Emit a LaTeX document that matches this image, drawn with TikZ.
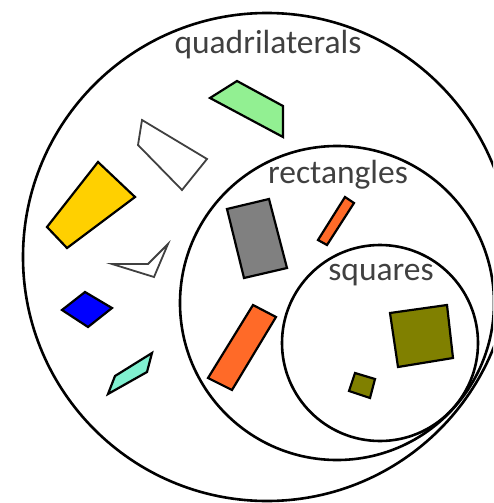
\documentclass[tikz,border=0pt]{standalone}
\usepackage{fontspec}
\setmainfont{Carlito}
\definecolor{lblgray}{RGB}{64,64,64}
\definecolor{kitegreen}{RGB}{146,240,146}
\definecolor{trapyellow}{RGB}{255,208,0}
\definecolor{rhomblue}{RGB}{0,0,255}
\definecolor{paraaqua}{RGB}{128,240,208}
\definecolor{rectgray}{RGB}{128,128,128}
\definecolor{rectorange}{RGB}{255,106,40}
\definecolor{sqolive}{RGB}{128,128,0}

\begin{document}
\begin{tikzpicture}[x=1pt,y=-1pt,
set/.style={draw=black,line width=2.6pt},
poly/.style={draw=black,line width=2.2pt},
hollow/.style={draw=black!75,line width=1.8pt,fill=white},
lbl/.style={text=lblgray,anchor=base,inner sep=0pt,font=\fontsize{33.5}{40}\selectfont}]

\useasboundingbox (0,0) rectangle (493,503);
\clip (0,0) rectangle (493,503);

% the three sets
\draw[set] (267,257) circle[radius=244pt];
\draw[set] (337,303) circle[radius=157pt];
\draw[set] (380,343) circle[radius=98pt];

\node[lbl](quad)at(268,54){quadrilaterals};
\node[lbl](rect)at(338,183){rectangles};
\node[lbl](sq)at(381,280){squares};

% general quadrilaterals
\draw[poly,fill=kitegreen] (210,98)--(237,81)--(283,106)--(283,137)--cycle;
\draw[hollow] (142,120)--(207,159)--(182,190)--(138,145)--cycle;
\draw[poly,fill=trapyellow] (98,162)--(135,197)--(67,248)--(47,227)--cycle;
\draw[hollow] (112,264)--(148,264)--(168,244)--(154,277)--cycle;
\draw[poly,fill=rhomblue] (62,310)--(85,292)--(112,308)--(88,327)--cycle;
\draw[poly,fill=paraaqua] (108,394)--(115,376)--(152,353)--(147,372)--cycle;

% rectangles
\draw[poly,fill=rectgray] (227,209)--(269,199)--(287,268)--(244,278)--cycle;
\draw[poly,fill=rectorange] (318,240)--(345,197)--(354,203)--(327,245)--cycle;
\draw[poly,fill=rectorange] (208,378)--(253,305)--(276,317)--(232,390)--cycle;

% squares
\draw[poly,fill=sqolive] (390,313)--(447,305)--(453,358)--(398,367)--cycle;
\draw[poly,fill=sqolive] (349,391)--(355,373)--(375,379)--(370,398)--cycle;
\end{tikzpicture}
\end{document}
